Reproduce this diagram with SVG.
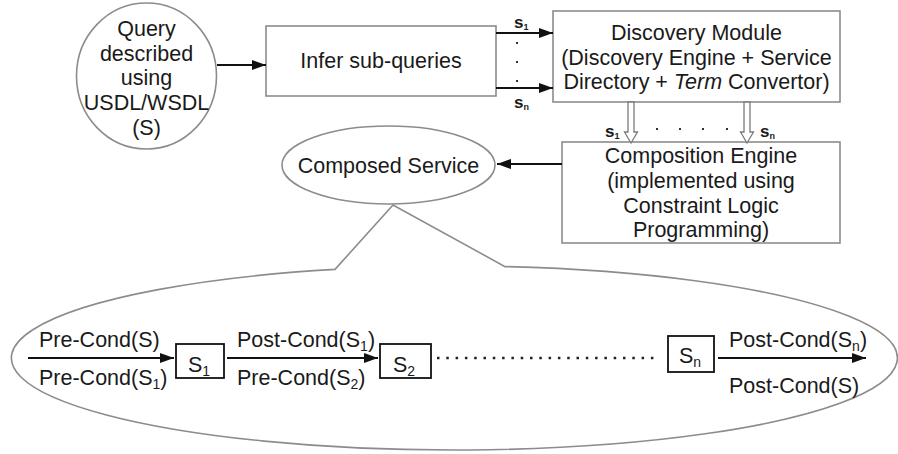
<svg xmlns="http://www.w3.org/2000/svg" width="898" height="454" viewBox="0 0 898 454">
  <style>
    text { font-family: "Liberation Sans", Arial, sans-serif; font-size: 21.5px; fill: #1a1a1a; }
    .c { text-anchor: middle; }
    .lbl { font-size: 17px; font-weight: bold; }
    .node { fill: #fff; stroke: #8c8c8c; stroke-width: 1.6; }
    .edge { stroke: #111; stroke-width: 2; fill: none; }
    .hollow { fill: #fff; stroke: #7a7a7a; stroke-width: 1.3; }
    .dot { fill: #333; }
  </style>
  <defs>
    <marker id="head" viewBox="0 0 14 10" refX="14" refY="5" markerWidth="14" markerHeight="10" markerUnits="userSpaceOnUse" orient="auto">
      <path d="M0,0 L14,5 L0,10 Z" fill="#111"/>
    </marker>
  </defs>

  <!-- query node -->
  <g id="query">
    <ellipse class="node" cx="146.5" cy="76" rx="70" ry="73"/>
    <text class="c" x="146.5" y="36">Query</text>
    <text class="c" x="146.5" y="60.5">described</text>
    <text class="c" x="146.5" y="85">using</text>
    <text class="c" x="146.5" y="110">USDL/WSDL</text>
    <text class="c" x="146.5" y="135">(S)</text>
  </g>

  <!-- sub-query inference -->
  <g id="infer">
    <rect class="node" x="266" y="26" width="230" height="70"/>
    <text class="c" x="381" y="68">Infer sub-queries</text>
  </g>

  <!-- discovery module -->
  <g id="discovery">
    <rect class="node" x="553" y="11" width="287" height="91"/>
    <text class="c" x="696.5" y="40">Discovery Module</text>
    <text class="c" x="696.5" y="65">(Discovery Engine + Service</text>
    <text class="c" x="696.5" y="89">Directory + <tspan font-style="italic">Term</tspan> Convertor)</text>
  </g>

  <!-- composition engine -->
  <g id="composition">
    <rect class="node" x="562" y="142" width="278" height="101"/>
    <text class="c" x="701" y="163">Composition Engine</text>
    <text class="c" x="701" y="188">(implemented using</text>
    <text class="c" x="701" y="213">Constraint Logic</text>
    <text class="c" x="701" y="237">Programming)</text>
  </g>

  <!-- composed service -->
  <g id="composed">
    <ellipse class="node" cx="388.5" cy="165" rx="106.5" ry="39"/>
    <text class="c" x="388.5" y="172.5">Composed Service</text>
  </g>

  <!-- expanded view of the composed service -->
  <g id="expansion">
    <path class="node" d="M335,269.4 L393,205 L505,266.6 A443,92 0 1 1 335,269.4 Z"/>
    <g id="s1">
      <rect x="176" y="344" width="48" height="34" fill="#fff" stroke="#111" stroke-width="1.8"/>
      <text x="188" y="371.5">S<tspan font-size="14" dy="4">1</tspan></text>
    </g>
    <g id="s2">
      <rect x="380" y="344" width="51" height="34" fill="#fff" stroke="#111" stroke-width="1.8"/>
      <text x="393" y="371.5">S<tspan font-size="14" dy="4">2</tspan></text>
    </g>
    <g id="sn">
      <rect x="668" y="336" width="46" height="36" fill="#fff" stroke="#111" stroke-width="1.8"/>
      <text x="679" y="363">S<tspan font-size="14" dy="4">n</tspan></text>
    </g>
    <text x="39" y="347">Pre-Cond(S)</text>
    <text x="39" y="385">Pre-Cond(S<tspan font-size="14" dy="4">1</tspan><tspan dy="-4">)</tspan></text>
    <text x="237" y="347">Post-Cond(S<tspan font-size="14" dy="4">1</tspan><tspan dy="-4">)</tspan></text>
    <text x="237" y="385">Pre-Cond(S<tspan font-size="14" dy="4">2</tspan><tspan dy="-4">)</tspan></text>
    <text x="729" y="347">Post-Cond(S<tspan font-size="14" dy="4">n</tspan><tspan dy="-4">)</tspan></text>
    <text x="729" y="393">Post-Cond(S)</text>
  </g>

  <!-- connectors -->
  <g id="connectors">
    <line class="edge" x1="217" y1="65" x2="266" y2="65" marker-end="url(#head)"/>
    <line class="edge" x1="496" y1="33" x2="553" y2="33" marker-end="url(#head)"/>
    <line class="edge" x1="496" y1="88" x2="553" y2="88" marker-end="url(#head)"/>
    <rect class="dot" x="516" y="42" width="2" height="2"/>
    <rect class="dot" x="516" y="61" width="2" height="2"/>
    <rect class="dot" x="516" y="80" width="2" height="2"/>
    <text class="lbl" x="514" y="28">s<tspan font-size="9" dy="2">1</tspan></text>
    <text class="lbl" x="514" y="108">s<tspan font-size="9" dy="2">n</tspan></text>

    <polygon class="hollow" points="628,102 628,132 624.5,132 631,143 637.5,132 634,132 634,102"/>
    <polygon class="hollow" points="744,102 744,132 740.5,132 747,143 753.5,132 750,132 750,102"/>
    <text class="lbl" x="605" y="137">s<tspan font-size="9" dy="2">1</tspan></text>
    <text class="lbl" x="760" y="137">s<tspan font-size="9" dy="2">n</tspan></text>
    <rect class="dot" x="656" y="128" width="2" height="2"/>
    <rect class="dot" x="679" y="128" width="2" height="2"/>
    <rect class="dot" x="702" y="128" width="2" height="2"/>
    <rect class="dot" x="726" y="128" width="2" height="2"/>

    <line class="edge" x1="562" y1="164" x2="497" y2="164" marker-end="url(#head)"/>

    <line class="edge" x1="28" y1="358" x2="174" y2="358" marker-end="url(#head)"/>
    <line class="edge" x1="227" y1="358" x2="378" y2="358" marker-end="url(#head)"/>
    <line x1="437" y1="358" x2="656" y2="358" stroke="#222" stroke-width="2.5" stroke-dasharray="2.5 6.8"/>
    <line class="edge" x1="718" y1="358" x2="866" y2="358" marker-end="url(#head)"/>
  </g>
</svg>
